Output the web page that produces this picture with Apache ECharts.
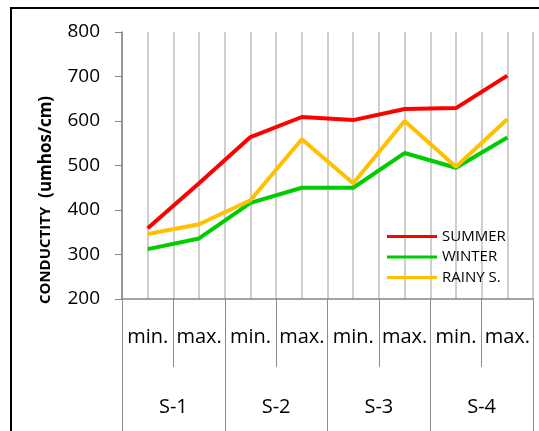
<!DOCTYPE html>
<html>
<head>
<meta charset="utf-8">
<script src="https://cdn.jsdelivr.net/npm/echarts@6/dist/echarts.min.js"></script>
<style>
  html, body { margin: 0; padding: 0; background: #fff; }
  #chart { width: 539px; height: 431px; }
</style>
</head>
<body>
<div id="chart"></div>
<script>
// categories
var subLabels = ['min.', 'max.', 'min.', 'max.', 'min.', 'max.', 'min.', 'max.']
var siteLabels = ['S-1', 'S-2', 'S-3', 'S-4']
// series values
var summer = [359, 460, 564, 609, 602, 627, 629, 702]
var winter = [312, 336, 416, 450, 450, 528, 495, 563]
var rainy = [346, 368, 422, 559, 460, 600, 497, 604]
var yTicks = { min: 200, max: 800, step: 100 }

var font = 'Open Sans'
var myChart = echarts.init(document.getElementById('chart'))

function lineSeries(name, data, color) {
  return {
    name: name,
    type: 'line',
    xAxisIndex: 0,
    data: data,
    symbol: 'none',
    lineStyle: { color: color, width: 4 },
    itemStyle: { color: color }
  }
}

myChart.setOption({
  animation: false,
  textStyle: { fontFamily: font },
  grid: { left: 122, top: 32, right: 6, bottom: 132 },
  legend: {
    orient: 'vertical',
    left: 387,
    top: 229,
    icon: 'rect',
    itemWidth: 50,
    itemHeight: 3,
    itemGap: 5.5,
    padding: 0,
    textStyle: { fontSize: 15, color: '#000', fontFamily: font },
    data: ['SUMMER', 'WINTER', 'RAINY S.']
  },
  xAxis: [
    {
      type: 'category',
      data: subLabels,
      boundaryGap: true,
      axisLine: { lineStyle: { color: '#868686', width: 1.5 } },
      axisTick: { show: true, interval: 0, length: 68, lineStyle: { color: '#8c8c8c' } },
      axisLabel: { interval: 0, margin: 28, fontSize: 20, color: '#000' },
      splitLine: { show: false }
    },
    {
      type: 'category',
      data: siteLabels,
      position: 'bottom',
      boundaryGap: true,
      axisLine: { show: false },
      axisTick: { show: true, interval: 0, length: 132, lineStyle: { color: '#8c8c8c' } },
      axisLabel: { interval: 0, margin: 98, fontSize: 20, color: '#000' },
      splitLine: { show: false }
    },
    {
      // vertical grid lines at boundaries and centres
      type: 'value',
      min: 0,
      max: 16,
      interval: 1,
      position: 'top',
      axisLine: { show: false },
      axisTick: { show: false },
      axisLabel: { show: false },
      splitLine: { show: true, lineStyle: { color: '#bfbfbf', width: 1.5 } }
    }
  ],
  yAxis: {
    type: 'value',
    min: yTicks.min,
    max: yTicks.max,
    interval: yTicks.step,
    axisLine: { show: true, lineStyle: { color: '#868686', width: 1.5 } },
    axisTick: { show: true, length: 7, lineStyle: { color: '#868686' } },
    axisLabel: { margin: 22, fontSize: 19, color: '#000' },
    splitLine: { show: false }
  },
  graphic: [
    {
      type: 'rect',
      shape: { x: 11, y: 8, width: 600, height: 500 },
      style: { fill: 'none', stroke: '#000', lineWidth: 2 }
    },
    {
      type: 'text',
      x: 46,
      y: 200,
      rotation: Math.PI / 2,
      style: {
        text: '{a|CONDUCTITY}{b|  (umhos/cm)}',
        align: 'center',
        verticalAlign: 'middle',
        rich: {
          a: { fontSize: 15, fontWeight: 'bold', fontFamily: font, fill: '#000' },
          b: { fontSize: 17, fontWeight: 'bold', fontFamily: font, fill: '#000' }
        }
      }
    }
  ],
  series: [
    lineSeries('SUMMER', summer, '#ff0000'),
    lineSeries('WINTER', winter, '#00cc00'),
    lineSeries('RAINY S.', rainy, '#ffc000')
  ]
})
</script>
</body>
</html>
